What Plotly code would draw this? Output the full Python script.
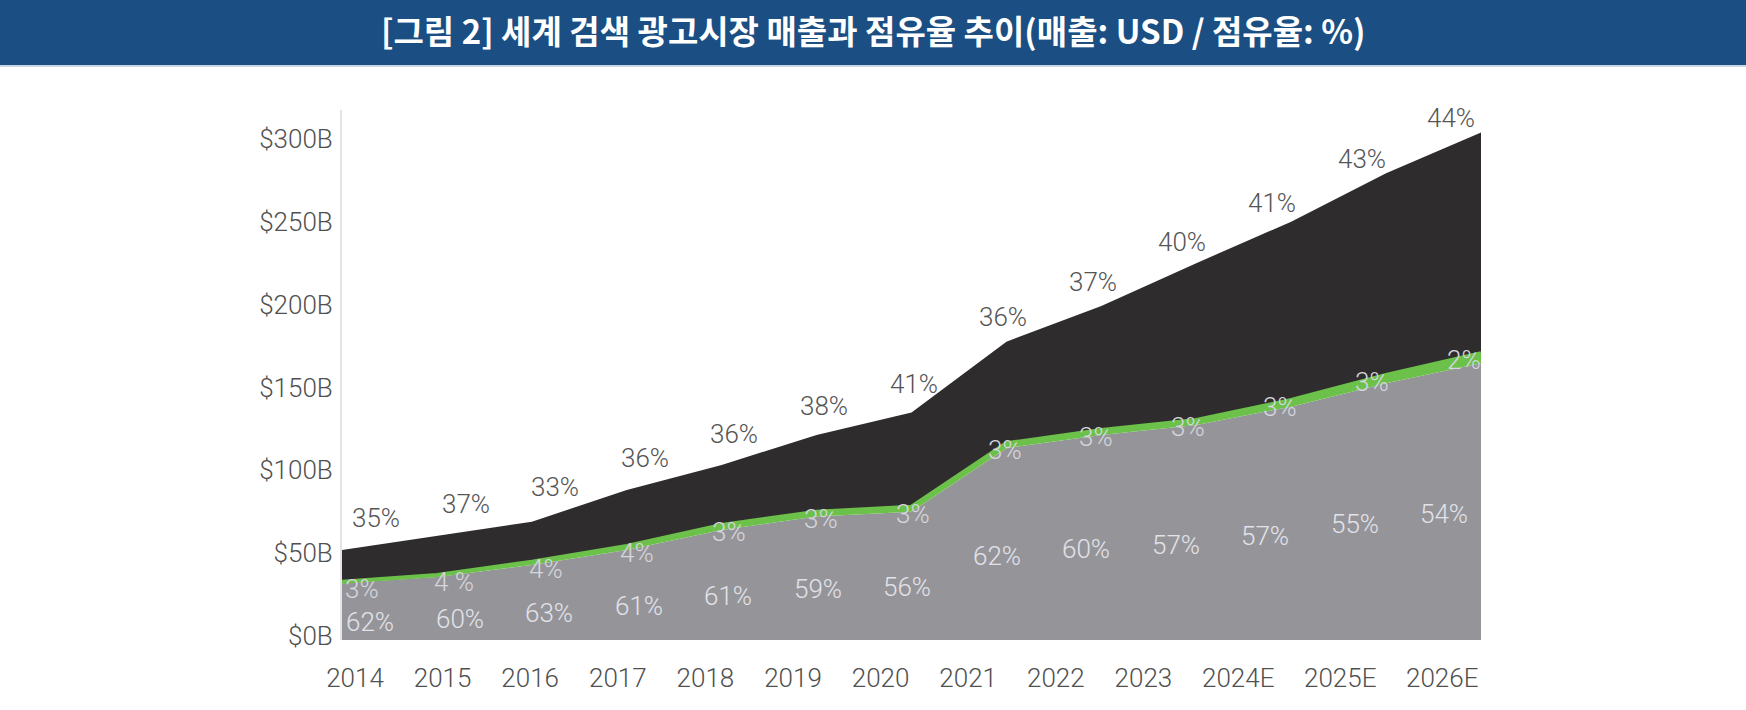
import numpy as np
import plotly.graph_objects as go

# values, USD billions
years = ["2014", "2015", "2016", "2017", "2018", "2019", "2020",
         "2021", "2022", "2023", "2024E", "2025E", "2026E"]
grey_vals = [34.2, 38.0, 45.3, 54.4, 66.4, 74.5, 77.5, 115.8, 123.8, 129.8, 140.9, 155.0, 167.1]
green_vals = [1.0, 1.3, 2.0, 2.4, 3.0, 3.0, 3.0, 3.0, 3.0, 3.1, 4.0, 5.0, 6.0]
black_vals = [19.2, 23.7, 24.1, 33.8, 36.3, 46.3, 56.8, 61.3, 74.9, 94.6, 107.7, 121.8, 133.3]

# share labels (%)
grey_pct = ["62%", "60%", "63%", "61%", "61%", "59%", "56%", "62%", "60%", "57%", "57%", "55%", "54%"]
green_pct = ["3%", "4 %", "4%", "4%", "3%", "3%", "3%", "3%", "3%", "3%", "3%", "3%", "2%"]
black_pct = ["35%", "37%", "33%", "36%", "36%", "38%", "41%", "36%", "37%", "40%", "41%", "43%", "44%"]

y_ticks = [0, 50, 100, 150, 200, 250, 300]
y_labels = ["$0B", "$50B", "$100B", "$150B", "$200B", "$250B", "$300B"]

title = "[그림 2] 세계 검색 광고시장 매출과 점유율 추이(매출: USD / 점유율: %)"

W, H = 1746, 710
ML, MR, MT, MB = 342, 265, 110, 70
plot_w = W - ML - MR
plot_h = H - MT - MB

FONT = "Roboto, 'Noto Sans', sans-serif"
idx = list(range(len(years)))
totals = [g + gr + b for g, gr, b in zip(grey_vals, green_vals, black_vals)]

fig = go.Figure()
fig.add_trace(go.Scatter(x=idx, y=grey_vals, stackgroup="s", mode="lines",
                         line=dict(width=0, color="#959599"), fillcolor="#959599",
                         hoverinfo="skip", showlegend=False))
fig.add_trace(go.Scatter(x=idx, y=green_vals, stackgroup="s", mode="lines",
                         line=dict(width=4, color="#6cc14a"), fillcolor="#6cc14a",
                         hoverinfo="skip", showlegend=False))
fig.add_trace(go.Scatter(x=idx, y=black_vals, stackgroup="s", mode="lines",
                         line=dict(width=0, color="#2f2c2d"), fillcolor="#2f2c2d",
                         hoverinfo="skip", showlegend=False))
# dummy trace so the label axis (x2, in pixels) is drawn
fig.add_trace(go.Scatter(x=[ML, ML + plot_w], y=[0, 0], xaxis="x2", mode="markers",
                         marker=dict(opacity=0), hoverinfo="skip", showlegend=False))

# year labels are laid out with equal gaps between them, like the original
tick_px = []
pos = 355
for i, lab in enumerate(years):
    if i:
        pos += (len(years[i - 1]) + len(lab)) * 7.2 + 30
    tick_px.append(pos)

# share labels sit in even columns
black_px = [376 + 89.6 * i for i in idx]
grey_px = [370 + 89.5 * i for i in idx]
green_px = [362 + 91.8 * i for i in idx]
step = plot_w / (len(years) - 1)


def lbl_font(color):
    return dict(size=26, color=color, family=FONT, weight=300)


ann = []
for i in idx:
    g = grey_vals[i]
    gt = g + green_vals[i]
    top_here = np.interp((black_px[i] - ML) / step, idx, totals)
    ann.append(dict(x=black_px[i], y=top_here, xref="x2", yref="y", text=black_pct[i],
                    showarrow=False, yshift=27, font=lbl_font("#555555")))
    ann.append(dict(x=green_px[i], y=gt, xref="x2", yref="y", text=green_pct[i],
                    showarrow=False, yshift=-7, font=lbl_font("#d6d6de")))
    ann.append(dict(x=grey_px[i], y=g * 0.49 - 6, xref="x2", yref="y", text=grey_pct[i],
                    showarrow=False, font=lbl_font("#e2e2ea")))

# title bar
bar_h = 65
y_top = (H - MB) / plot_h
y_bar = (H - MB - bar_h) / plot_h
x_left = -ML / plot_w
x_right = (W - ML) / plot_w
ann.append(dict(x=(W / 2 - ML) / plot_w, y=(H - MB - 30) / plot_h, xref="paper", yref="paper",
                xanchor="center", yanchor="middle",
                text="<b>" + title + "</b>", showarrow=False,
                font=dict(size=33, color="white", family="'Noto Sans CJK KR', sans-serif")))

fig.update_layout(
    width=W, height=H,
    margin=dict(l=ML, r=MR, t=MT, b=MB),
    paper_bgcolor="white", plot_bgcolor="white",
    showlegend=False,
    annotations=ann,
    shapes=[
        dict(type="rect", xref="paper", yref="paper", x0=x_left, x1=x_right,
             y0=y_bar, y1=y_top + 0.05, fillcolor="#1b4e82", line=dict(width=0), layer="below"),
        dict(type="line", xref="paper", yref="paper", x0=x_left, x1=x_right,
             y0=y_bar - 0.002, y1=y_bar - 0.002, line=dict(color="#c9d5e2", width=2)),
    ],
    xaxis=dict(range=[0, 12], showticklabels=False, showgrid=False, zeroline=False,
               showline=False, fixedrange=True),
    xaxis2=dict(overlaying="x", anchor="y", side="bottom", range=[ML, ML + plot_w],
                tickvals=tick_px, ticktext=years, showgrid=False, zeroline=False, showline=False,
                ticks="", ticklabelstandoff=20,
                tickfont=lbl_font("#505050")),
    yaxis=dict(range=[0, 320], tickvals=y_ticks, ticktext=y_labels, showgrid=False,
               zeroline=False, showline=True, linecolor="#e4e4e8", linewidth=2,
               ticks="", ticklabelstandoff=2, ticklabelshift=-4,
               tickfont=lbl_font("#505050")),
)

fig.write_html("out.html", config={"displayModeBar": False},
               post_script="document.body.style.margin='0';")
